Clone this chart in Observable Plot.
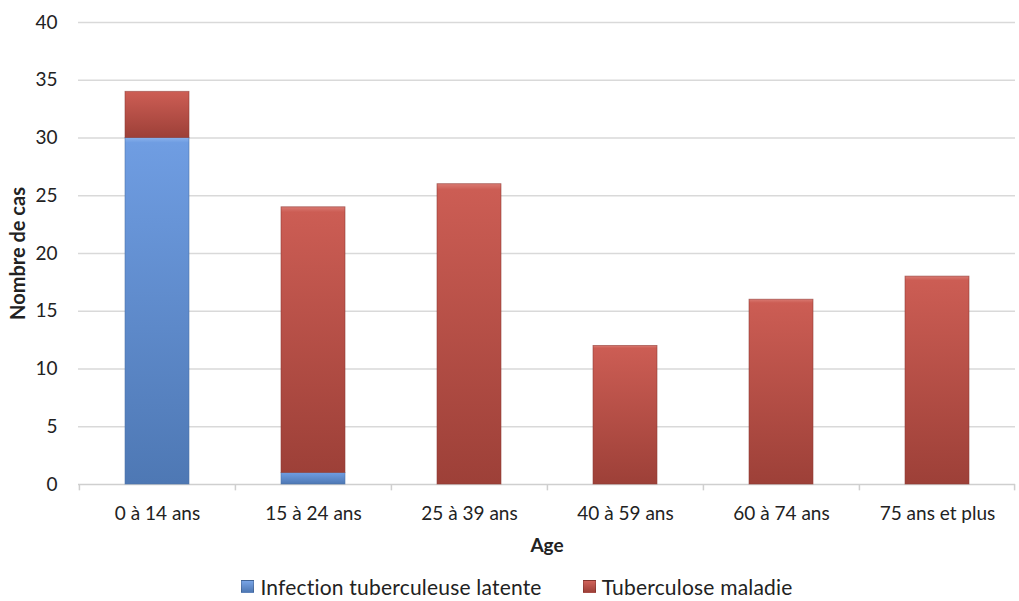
<!DOCTYPE html>
<html>
<head>
<meta charset="utf-8">
<script src="https://cdn.jsdelivr.net/npm/d3@7"></script>
<script src="https://cdn.jsdelivr.net/npm/@observablehq/plot@0.6"></script>
<style>
  html, body { margin: 0; padding: 0; background: #fff; }
  #chart { width: 1019px; }
  .legend { display: flex; justify-content: center; font-family: Lato, "Open Sans", sans-serif; font-size: 21px; letter-spacing: 0.2px; color: #222; height: 29px; align-items: center; padding-left: 15px; }
  .legend .item { display: flex; align-items: center; }
  .legend .sw { width: 13px; height: 13px; margin-right: 6px; border: 1px solid rgba(0,0,0,0.18); box-sizing: border-box; }
</style>
</head>
<body>
<div id="chart"></div>
<script>
const categories = ["0 à 14 ans", "15 à 24 ans", "25 à 39 ans", "40 à 59 ans", "60 à 74 ans", "75 ans et plus"];
const series = ["Infection tuberculeuse latente", "Tuberculose maladie"];
const latente = [30, 1, 0, 0, 0, 0];
const maladie = [4, 23, 26, 12, 16, 18];
const yTicks = [0, 5, 10, 15, 20, 25, 30, 35, 40];

const style = {
  "Infection tuberculeuse latente": {fill: "url(#gBlue)", stroke: "#4d73aa", swatch: "linear-gradient(#78a4e6,#4e78b4)"},
  "Tuberculose maladie": {fill: "url(#gRed)", stroke: "#8e3b34", swatch: "linear-gradient(#d0625a,#9e4038)"}
};

const data = [];
categories.forEach((c, i) => {
  data.push({cat: c, series: series[0], value: latente[i]});
  data.push({cat: c, series: series[1], value: maladie[i]});
});

const W = 1019, H = 572;
const mL = 78, mR = 4, mT = 22, mB = H - 484;
const step = (W - mL - mR) / categories.length;
const FONT = "Lato, 'Open Sans', sans-serif";

const plot = Plot.plot({
  width: W, height: H,
  marginLeft: mL, marginRight: mR, marginTop: mT, marginBottom: mB,
  style: {fontFamily: FONT, fontSize: "19px", color: "#222", background: "#fff"},
  x: {domain: categories, paddingInner: 0.59, paddingOuter: 0.295, label: null},
  y: {domain: [0, 40], ticks: yTicks, label: null},
  color: {type: "identity"},
  marks: [
    Plot.gridY(yTicks.filter(d => d > 0), {stroke: "#d9d9d9", strokeOpacity: 1, strokeWidth: 1.5}),
    Plot.ruleY([0], {stroke: "#cfcfcf", strokeWidth: 1.5}),
    Plot.ruleX(categories, {x: d => d, dx: -step / 2, y1: 0, y2: -0.55, stroke: "#cfcfcf", strokeWidth: 1.5}),
    Plot.ruleX([categories[categories.length - 1]], {x: d => d, dx: step / 2 - 1, y1: 0, y2: -0.55, stroke: "#cfcfcf", strokeWidth: 1.5}),
    Plot.barY(data.filter(d => d.value > 0), Plot.stackY({
      x: "cat", y: "value", order: series,
      z: "series",
      fill: d => style[d.series].fill,
      stroke: d => style[d.series].stroke,
      strokeWidth: 0.8, strokeOpacity: 0.7
    })),
    Plot.axisY({ticks: yTicks, tickSize: 0, tickPadding: 21, fontSize: 19, label: null}),
    Plot.axisX({tickSize: 0, tickPadding: 22, fontSize: 19, label: null}),
    Plot.text(["Age"], {frameAnchor: "bottom", textAnchor: "middle", lineAnchor: "middle", dy: 61, fontWeight: "bold", fontSize: 19}),
    Plot.text(["Nombre de cas"], {frameAnchor: "left", textAnchor: "middle", lineAnchor: "middle", rotate: -90, dx: -60, fontWeight: "bold", fontSize: 20, style: {letterSpacing: "0.6px"}})
  ]
});

// gradient defs
const ns = "http://www.w3.org/2000/svg";
const defs = document.createElementNS(ns, "defs");
defs.innerHTML = `
<linearGradient id="gBlue" x1="0" y1="0" x2="0" y2="1">
  <stop offset="0" stop-color="#8ab2ec"/>
  <stop offset="0.015" stop-color="#6f9de2"/>
  <stop offset="1" stop-color="#4e78b4"/>
</linearGradient>
<linearGradient id="gRed" x1="0" y1="0" x2="0" y2="1">
  <stop offset="0" stop-color="#d97a72"/>
  <stop offset="0.02" stop-color="#cc5d54"/>
  <stop offset="1" stop-color="#9d4038"/>
</linearGradient>`;
plot.insertBefore(defs, plot.firstChild);
document.getElementById("chart").appendChild(plot);

// legend
const legend = document.createElement("div");
legend.className = "legend";
series.forEach((s, i) => {
  const item = document.createElement("div");
  item.className = "item";
  if (i > 0) item.style.marginLeft = "41px";
  const sw = document.createElement("div");
  sw.className = "sw";
  sw.style.background = style[s].swatch;
  const t = document.createElement("span");
  t.textContent = s;
  item.appendChild(sw); item.appendChild(t);
  legend.appendChild(item);
});
document.getElementById("chart").appendChild(legend);
</script>
</body>
</html>
